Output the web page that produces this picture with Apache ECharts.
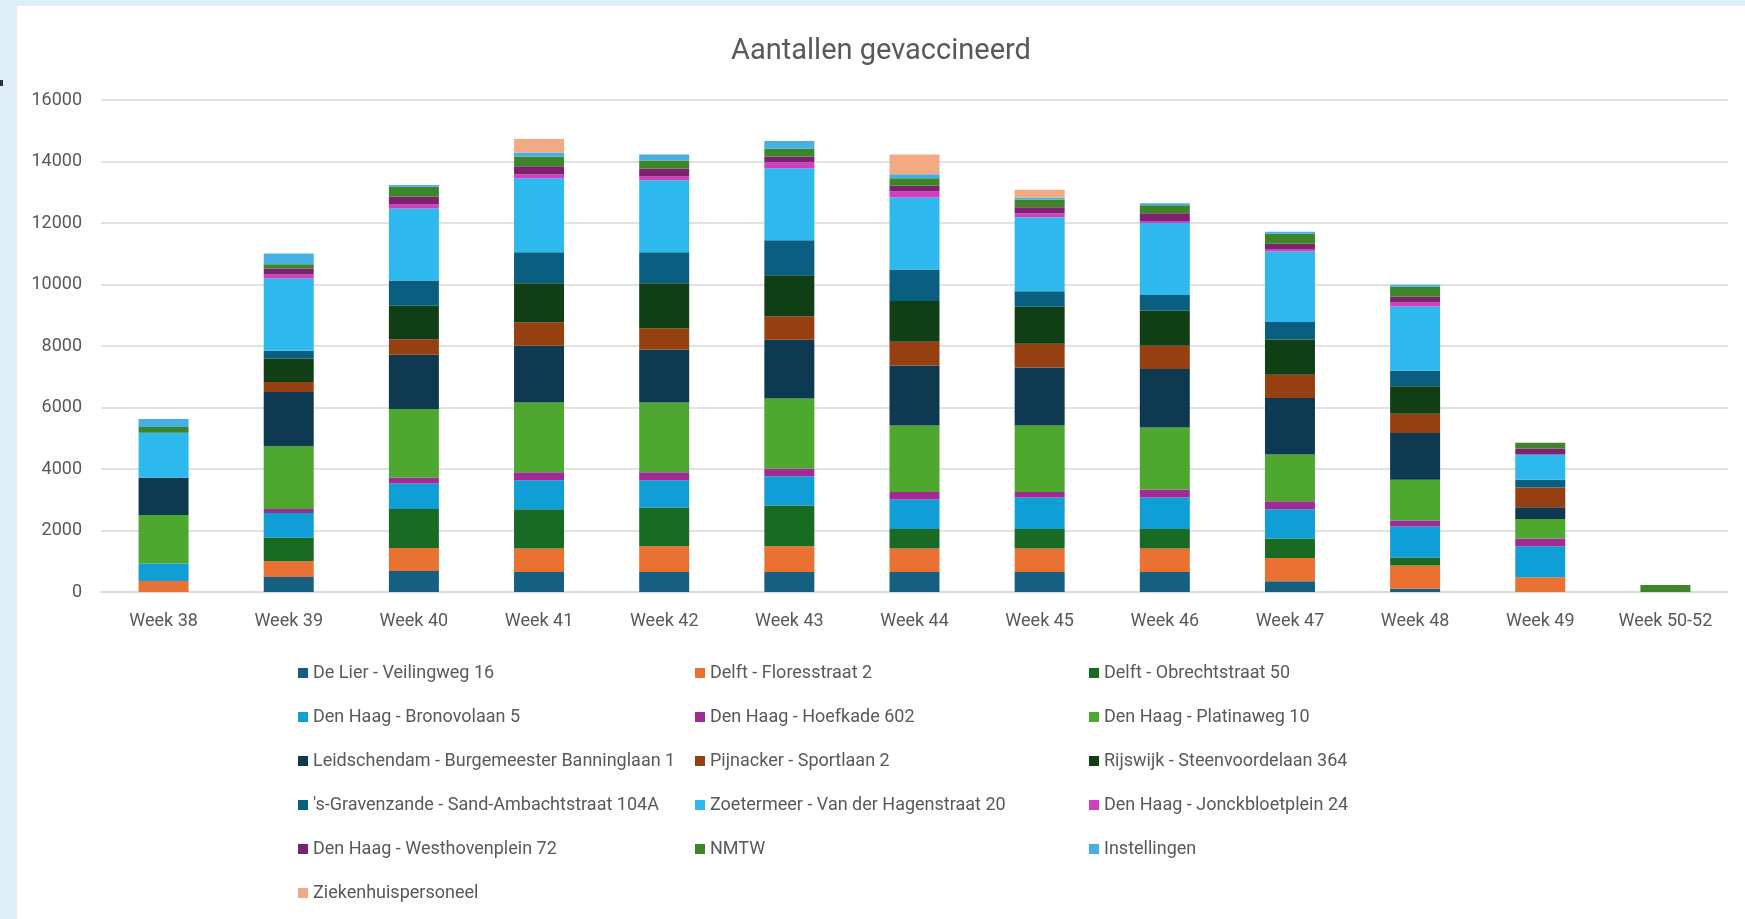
<!DOCTYPE html>
<html>
<head>
<meta charset="utf-8">
<script src="https://cdn.jsdelivr.net/npm/echarts@6/dist/echarts.min.js"></script>
<style>
    html, body { margin:0; padding:0; width:1745px; height:919px; background:#deeef8; overflow:hidden; }
    #chart { position:absolute; left:17px; top:6px; width:1728px; height:913px; background:#fff; }
    .mark { position:absolute; left:0; top:80px; width:3px; height:6px; background:#333; }
</style>
</head>
<body>
<div class="mark"></div>
<div id="chart"></div>
<script>
// weken
var weeks = ['Week 38','Week 39','Week 40','Week 41','Week 42','Week 43','Week 44','Week 45','Week 46','Week 47','Week 48','Week 49','Week 50-52']

var deLier        = [0, 485, 683, 651, 651, 651, 651, 651, 651, 347, 109, 0, 0]
var delftFlores   = [354, 517, 749, 760, 836, 836, 760, 760, 760, 760, 749, 478, 0]
var delftObrecht  = [0, 761, 1268, 1281, 1259, 1324, 640, 640, 640, 630, 260, 0, 0]
var dhBronovo     = [572, 805, 826, 944, 890, 955, 955, 1020, 1020, 956, 1010, 1009, 0]
var dhHoefkade    = [0, 132, 199, 260, 260, 250, 250, 185, 261, 260, 196, 250, 0]
var dhPlatina     = [1576, 2038, 2225, 2269, 2269, 2279, 2160, 2160, 2018, 1520, 1324, 641, 0]
var leidschendam  = [1211, 1764, 1763, 1845, 1725, 1910, 1953, 1888, 1900, 1835, 1520, 380, 0]
var pijnacker     = [0, 330, 507, 759, 684, 760, 771, 771, 760, 760, 630, 640, 0]
var rijswijk      = [0, 761, 1092, 1270, 1465, 1335, 1324, 1205, 1139, 1140, 890, 0, 0]
var gravenzande   = [0, 253, 815, 1009, 1009, 1139, 1020, 499, 510, 576, 511, 250, 0]
var zoetermeer    = [1466, 2347, 2346, 2410, 2345, 2344, 2345, 2409, 2344, 2291, 2084, 825, 0]
var dhJonckbloet  = [0, 132, 132, 130, 119, 196, 195, 130, 66, 65, 131, 0, 0]
var dhWesthoven   = [0, 198, 255, 261, 261, 184, 184, 196, 249, 185, 184, 196, 0]
var nmtw          = [187, 132, 320, 314, 260, 250, 250, 249, 261, 325, 326, 184, 225]
var instellingen  = [264, 353, 54, 131, 195, 250, 130, 66, 65, 66, 65, 0, 0]
var ziekenhuis    = [0, 0, 0, 434, 0, 0, 640, 249, 0, 0, 0, 0, 0]

var yTicks = [0, 2000, 4000, 6000, 8000, 10000, 12000, 14000, 16000]

var series_list = [
    ['De Lier - Veilingweg 16', deLier, '#156082'],
    ['Delft - Floresstraat 2', delftFlores, '#e97132'],
    ['Delft - Obrechtstraat 50', delftObrecht, '#196b24'],
    ['Den Haag - Bronovolaan 5', dhBronovo, '#0f9ed5'],
    ['Den Haag - Hoefkade 602', dhHoefkade, '#a02b93'],
    ['Den Haag - Platinaweg 10', dhPlatina, '#4ea72e'],
    ['Leidschendam - Burgemeester Banninglaan 1', leidschendam, '#0e3a51'],
    ['Pijnacker - Sportlaan 2', pijnacker, '#963f10'],
    ['Rijswijk - Steenvoordelaan 364', rijswijk, '#103f16'],
    ["'s-Gravenzande - Sand-Ambachtstraat 104A", gravenzande, '#0a5e80'],
    ['Zoetermeer - Van der Hagenstraat 20', zoetermeer, '#2eb9ee'],
    ['Den Haag - Jonckbloetplein 24', dhJonckbloet, '#cf3fc0'],
    ['Den Haag - Westhovenplein 72', dhWesthoven, '#7e2270'],
    ['NMTW', nmtw, '#3e8428'],
    ['Instellingen', instellingen, '#45b0e1'],
    ['Ziekenhuispersoneel', ziekenhuis, '#f2aa84']
]

var FONT = "'Roboto', sans-serif"
var names = series_list.map(function (s) { return s[0] })

// legenda in 3 kolommen
function col(i) {
    return names.filter(function (n, k) { return k % 3 === i })
}
var legendX = [276, 673, 1067]
var legends = legendX.map(function (x, i) {
    return {
        orient: 'vertical',
        left: x,
        top: 652,
        data: col(i),
        icon: 'rect',
        itemWidth: 10,
        itemHeight: 10,
        itemGap: 24,
        selectedMode: false,
        textStyle: { color: '#595959', fontSize: 18, fontFamily: FONT, lineHeight: 20 }
    }
})

var chart = echarts.init(document.getElementById('chart'))
var option = {
    animation: false,
    title: {
        text: 'Aantallen gevaccineerd',
        left: 'center',
        top: 26,
        textStyle: { color: '#595959', fontSize: 29, fontWeight: 'normal', fontFamily: FONT }
    },
    legend: legends,
    grid: { left: 84, right: 17, top: 94, bottom: 327 },
    xAxis: {
        type: 'category',
        data: weeks,
        axisLine: { show: true, lineStyle: { color: '#d9d9d9', width: 1.5 } },
        axisTick: { show: false },
        axisLabel: { color: '#595959', fontSize: 18, fontFamily: FONT, margin: 20 }
    },
    yAxis: {
        type: 'value',
        min: yTicks[0],
        max: yTicks[yTicks.length - 1],
        interval: 2000,
        axisLine: { show: false },
        axisTick: { show: false },
        axisLabel: { color: '#595959', fontSize: 18, fontFamily: FONT, margin: 19, formatter: function (v) { return String(v) } },
        splitLine: { lineStyle: { color: '#d9d9d9', width: 1.5 } }
    },
    series: series_list.map(function (s) {
        return {
            name: s[0],
            type: 'bar',
            stack: 'totaal',
            data: s[1],
            barWidth: 50,
            itemStyle: { color: s[2] }
        }
    })
}
chart.setOption(option)
</script>
</body>
</html>
